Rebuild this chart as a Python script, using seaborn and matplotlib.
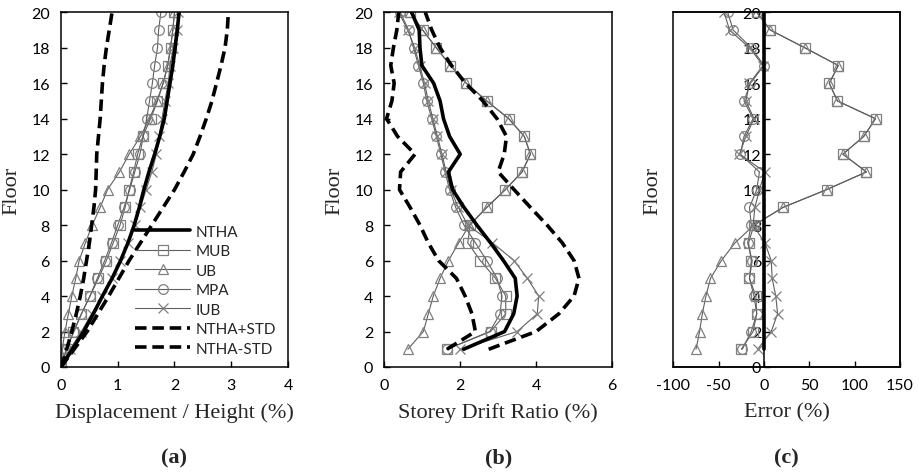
import numpy as np
import pandas as pd
import matplotlib
matplotlib.use("Agg")
import matplotlib.pyplot as plt
import seaborn as sns

# ---------------- data ----------------
floors_a = list(range(0, 21))
ntha_a = [0, 0.2, 0.4, 0.57, 0.73, 0.9, 1.05, 1.18, 1.29, 1.38, 1.46, 1.55, 1.65, 1.74, 1.82, 1.87, 1.92, 1.97, 2.01, 2.05, 2.08]
ntha_plus_a = [0, 0.23, 0.46, 0.65, 0.84, 1.02, 1.2, 1.4, 1.6, 1.8, 2.0, 2.17, 2.33, 2.45, 2.56, 2.66, 2.74, 2.82, 2.89, 2.93, 2.95]
ntha_minus_a = [0, 0.1, 0.19, 0.27, 0.34, 0.4, 0.45, 0.5, 0.54, 0.58, 0.61, 0.62, 0.63, 0.66, 0.69, 0.71, 0.73, 0.76, 0.8, 0.85, 0.9]
mub_a = [0, 0.1, 0.22, 0.36, 0.51, 0.66, 0.8, 0.92, 1.04, 1.13, 1.2, 1.28, 1.35, 1.44, 1.58, 1.7, 1.8, 1.88, 1.93, 1.97, 2.0]
ub_a = [0, 0.02, 0.07, 0.13, 0.19, 0.26, 0.32, 0.43, 0.55, 0.69, 0.82, 1.03, 1.2, 1.4, 1.56, 1.69, 1.8, 1.88, 1.93, 1.97, 2.0]
mpa_a = [0, 0.09, 0.23, 0.36, 0.51, 0.64, 0.77, 0.89, 1.0, 1.11, 1.21, 1.3, 1.39, 1.45, 1.51, 1.56, 1.61, 1.65, 1.7, 1.72, 1.76]
iub_a = [0, 0.16, 0.36, 0.54, 0.73, 0.89, 1.04, 1.18, 1.3, 1.4, 1.5, 1.6, 1.68, 1.73, 1.78, 1.83, 1.89, 1.92, 1.98, 2.04, 2.07]

floors_b = list(range(1, 21))
ntha_b = [2.09, 3.17, 3.41, 3.5, 3.45, 3.14, 2.8, 2.44, 2.1, 1.8, 1.69, 2.0, 1.72, 1.56, 1.47, 1.3, 0.99, 0.94, 0.92, 0.72]
ntha_plus_b = [2.75, 4.0, 4.6, 5.0, 5.13, 5.0, 4.69, 4.29, 3.85, 3.42, 3.0, 3.16, 3.22, 2.97, 2.6, 2.14, 1.77, 1.47, 1.25, 1.08]
ntha_minus_b = [1.65, 2.4, 2.31, 2.13, 1.9, 1.43, 1.16, 0.94, 0.68, 0.4, 0.43, 0.81, 0.35, 0.06, 0.2, 0.26, 0.17, 0.24, 0.33, 0.38]
mub_b = [1.65, 2.8, 3.2, 3.2, 2.93, 2.53, 2.2, 2.26, 2.7, 3.19, 3.63, 3.85, 3.69, 3.28, 2.7, 2.16, 1.74, 1.37, 1.01, 0.68]
ub_b = [0.62, 1.03, 1.16, 1.29, 1.47, 1.69, 1.96, 2.24, 2.7, 3.19, 3.63, 3.85, 3.69, 3.28, 2.7, 2.16, 1.74, 1.37, 1.01, 0.68]
mpa_b = [1.65, 2.78, 3.05, 3.1, 2.97, 2.7, 2.4, 2.1, 1.88, 1.72, 1.6, 1.49, 1.37, 1.25, 1.12, 1.03, 0.9, 0.77, 0.64, 0.42]
iub_b = [2.0, 3.5, 4.03, 4.07, 3.77, 3.42, 2.85, 2.2, 1.95, 1.75, 1.63, 1.52, 1.4, 1.28, 1.16, 1.06, 0.93, 0.8, 0.62, 0.38]

floors_c = list(range(1, 21))
ntha_c = [0] * 20
mub_c = [-25, -12, -8, -9, -16, -14, -17, -11, 21, 69, 113, 87, 110, 123, 81, 72, 82, 45, 7, -8]
ub_c = [-75, -71, -68, -64, -59, -47, -32, -11, 21, 69, 113, 87, 110, 123, 81, 72, 82, 45, 7, -8]
mpa_c = [-24, -14, -8, -11, -16, -13, -18, -14, -16, -8, -5, -26, -22, -12, -22, -15, 0, -14, -34, -40]
iub_c = [-7, 8, 15, 13, 9, 8, 1, -12, -10, -5, 1, -27, -20, -11, -20, -16, -1, -16, -38, -44]

series_names = ["NTHA", "MUB", "UB", "MPA", "IUB", "NTHA+STD", "NTHA-STD"]
panel_labels = ["(a)", "(b)", "(c)"]
x_titles = ["Displacement / Height (%)", "Storey Drift Ratio (%)", "Error (%)"]

# ---------------- style ----------------
sns.set_style("white")
plt.rcParams["font.family"] = ["Lato", "DejaVu Sans"]
plt.rcParams["axes.unicode_minus"] = False

SERIF = ["Liberation Serif", "DejaVu Serif"]
GRAY_LINE = "#5f5f5f"
GRAY_MK = "#808080"
TICK_FS = 11.5
LEG_FS = 11

fig = plt.figure(figsize=(9.2, 4.77), dpi=100)
W, H = 920, 477


def add_axes(left_px, right_px, top_px=13.3, bottom_px=368):
    return fig.add_axes([left_px / W, 1 - bottom_px / H, (right_px - left_px) / W, (bottom_px - top_px) / H])


ax_a = add_axes(61, 288)
ax_b = add_axes(384.3, 612)
ax_c = add_axes(673.3, 900)

marker_kw = dict(markerfacecolor="none", markeredgecolor=GRAY_MK, markersize=7, markeredgewidth=0.9)


def method_line(ax, x, y, marker, label):
    sns.lineplot(x=x, y=y, sort=False, estimator=None, ax=ax, color=GRAY_LINE,
                 linewidth=0.8, marker=marker, label=label, legend=False, **marker_kw)


def thick(ax, x, y, label, ls="-"):
    sns.lineplot(x=x, y=y, sort=False, estimator=None, ax=ax, color="black",
                 linewidth=2.6, linestyle=ls, label=label, legend=False)


dash = (0, (3.2, 1.6))

# panel a
method_line(ax_a, mub_a, floors_a, "s", "MUB")
method_line(ax_a, ub_a, floors_a, "^", "UB")
method_line(ax_a, mpa_a, floors_a, "o", "MPA")
method_line(ax_a, iub_a, floors_a, "x", "IUB")
thick(ax_a, ntha_a, floors_a, "NTHA")
thick(ax_a, ntha_plus_a, floors_a, "NTHA+STD", dash)
thick(ax_a, ntha_minus_a, floors_a, "NTHA-STD", dash)

# panel b
method_line(ax_b, mub_b, floors_b, "s", "MUB")
method_line(ax_b, ub_b, floors_b, "^", "UB")
method_line(ax_b, mpa_b, floors_b, "o", "MPA")
method_line(ax_b, iub_b, floors_b, "x", "IUB")
thick(ax_b, ntha_b, floors_b, "NTHA")
thick(ax_b, ntha_plus_b, floors_b, "NTHA+STD", dash)
thick(ax_b, ntha_minus_b, floors_b, "NTHA-STD", dash)

# panel c
method_line(ax_c, mub_c, floors_c, "s", "MUB")
method_line(ax_c, ub_c, floors_c, "^", "UB")
method_line(ax_c, mpa_c, floors_c, "o", "MPA")
method_line(ax_c, iub_c, floors_c, "x", "IUB")
thick(ax_c, ntha_c, floors_c, "NTHA")

# legend in panel a
handles = {ln.get_label(): ln for ln in ax_a.get_lines()}
leg = ax_a.legend([handles[n] for n in series_names], series_names, loc="lower right",
                  bbox_to_anchor=(0.978, 0.013), borderaxespad=0, frameon=True, fancybox=False,
                  edgecolor="black", framealpha=0, handlelength=3.6, handletextpad=0.35,
                  labelspacing=0.36, borderpad=0.45, fontsize=LEG_FS)
leg.get_frame().set_linewidth(1.6)

limits = [((0, 4), np.arange(0, 5, 1)), ((0, 6), np.arange(0, 7, 2)), ((-100, 150), np.arange(-100, 151, 50))]
for ax, (xl, xt), xtitle, plab in zip([ax_a, ax_b, ax_c], limits, x_titles, panel_labels):
    ax.set_xlim(*xl)
    ax.set_xticks(xt)
    ax.set_ylim(0, 20)
    ax.set_yticks(np.arange(0, 21, 2))
    ax.tick_params(direction="in", length=4, width=1, labelsize=TICK_FS, colors="black", pad=8,
                   bottom=True, left=True, top=False, right=False)
    for sp in ax.spines.values():
        sp.set_color("black")
        sp.set_linewidth(1.1)
        sp.set_visible(True)
    ax.set_xlabel(xtitle, fontsize=16, family=SERIF)
    ax.set_ylabel("Floor", fontsize=16, family=SERIF)
    ax.xaxis.set_label_coords(0.5, -0.1)
    pos = ax.get_position()
    fig.text(pos.x0 + pos.width / 2, 1 - 458 / H, plab, ha="center", va="center",
             fontsize=16, fontweight="bold", family=SERIF)

ax_a.yaxis.set_label_coords(-0.175, 0.5)
ax_b.yaxis.set_label_coords(-0.175, 0.5)

# panel c: vertical axis crossing at zero, framed plot area
ax_c.spines["left"].set_position(("data", 0))
ax_c.patch.set_edgecolor("black")
ax_c.patch.set_linewidth(1.1)
ax_c.tick_params(axis="y", pad=2)
ax_c.yaxis.set_label_coords(-0.05, 0.5)

fig.savefig("out.png", dpi=100, facecolor="white")
